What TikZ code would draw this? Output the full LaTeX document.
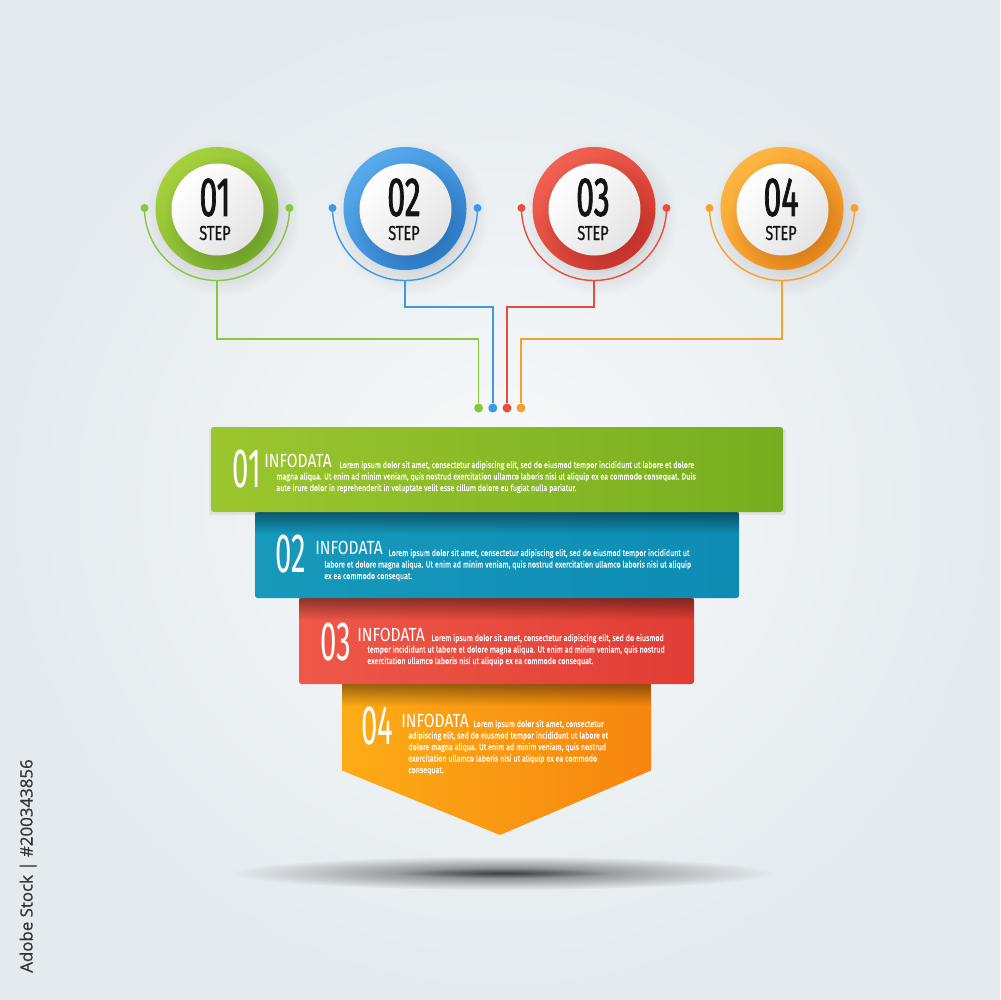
\documentclass[tikz,border=0pt]{standalone}
\usepackage{fontspec}
\setmainfont{Fira Sans}
\newfontfamily\cnumfont[FakeStretch=0.58, FakeBold=1.3]{Fira Sans}
\newfontfamily\cstepfont[FakeStretch=0.72, FakeBold=0.8]{Fira Sans}
\newfontfamily\bnumfont[FakeStretch=0.53]{Fira Sans}
\newfontfamily\ttlfont[FakeStretch=0.82]{Fira Sans}
\newfontfamily\bodyfont[FakeStretch=0.8, FakeBold=0.6]{Fira Sans}
\newfontfamily\sidefont[FakeBold=0.6]{Open Sans}
\usetikzlibrary{fadings}
\definecolor{bgin}{HTML}{F8FAFB}
\definecolor{bgout}{HTML}{E4EAEE}
\definecolor{gA}{HTML}{A6D13E}\definecolor{gB}{HTML}{7AB22E}\definecolor{gL}{HTML}{8BC53F}
\definecolor{bA}{HTML}{58AAEC}\definecolor{bB}{HTML}{2E82D2}\definecolor{bL}{HTML}{3E98E6}
\definecolor{rA}{HTML}{F06252}\definecolor{rB}{HTML}{D6362E}\definecolor{rL}{HTML}{E84C3D}
\definecolor{oA}{HTML}{FDB642}\definecolor{oB}{HTML}{F28E1E}\definecolor{oL}{HTML}{F7A030}
\definecolor{g1L}{HTML}{9CC62E}\definecolor{g1R}{HTML}{76AE1F}
\definecolor{t2L}{HTML}{1699BB}\definecolor{t2R}{HTML}{0E8CB3}
\definecolor{r3L}{HTML}{EF5848}\definecolor{r3R}{HTML}{E13D35}
\definecolor{o4L}{HTML}{FDAC16}\definecolor{o4R}{HTML}{F7850E}
\definecolor{disc}{HTML}{E4E4E4}
\definecolor{sidegray}{HTML}{333333}
\tikzfading[name=softfade, inner color=transparent!0, outer color=transparent!100]
\tikzfading[name=topfade, top color=transparent!0, bottom color=transparent!100]
\newcommand\stepnum[1]{{\cnumfont\fontsize{31.5}{31.5}\selectfont #1}\\{STEP}}
\begin{document}
\begin{tikzpicture}[x=0.02cm,y=-0.02cm,
  cnum/.style={inner sep=0, anchor=north, align=center, text=black!92, font=\cstepfont\fontsize{11.5}{13.7}\selectfont},
  bnum/.style={inner sep=0, anchor=base west, text=white, font=\bnumfont\fontsize{31.5}{31.5}\selectfont},
  ttl/.style={inner sep=0, anchor=base west, text=white, font=\ttlfont\fontsize{10.8}{10.8}\selectfont},
  bodytxt/.style={inner sep=0, anchor=base west, text=white, font=\bodyfont\fontsize{5.05}{6}\selectfont},
  conn/.style={line width=0.8pt},
  enddot/.style={circle, inner sep=0, minimum size=0.18cm},
  ringshadow/.style={black, opacity=0.28, path fading=softfade},
  bandshadow/.style={black, opacity=0.42, path fading=topfade}
]
% background
\shade[inner color=bgin, outer color=bgout] (0,0) rectangle (1000,1000);
\useasboundingbox (0,0) rectangle (1000,1000);
% floor shadow
\fill[black, opacity=0.55, path fading=softfade] (503,873) ellipse (270 and 17);
\fill[black, opacity=0.4, path fading=softfade] (503,873) ellipse (110 and 5);

% circles
\foreach \cx/\ca/\cb in {217/gA/gB, 405/bA/bB, 594/rA/rB, 782/oA/oB}{
  \fill[ringshadow] (\cx+6,218) circle (78);
  \shade[top color=\ca, bottom color=\cb, shading angle=40] (\cx,208.5) circle (61.5);
  \fill[black, opacity=0.35, path fading=softfade] (\cx+5,215) circle (58);
  \shade[top color=white, bottom color=disc, shading angle=45] (\cx+0.5,209.5) circle (46);
}
\node[cnum] (n1) at (215,178) {\stepnum{01}};
\node[cnum] (n2) at (404,178) {\stepnum{02}};
\node[cnum] (n3) at (593,178) {\stepnum{03}};
\node[cnum] (n4) at (781,178) {\stepnum{04}};

% arcs around circles
\foreach \cx/\cl in {217/gL, 405/bL, 594/rL, 782/oL}{
  \draw[conn, \cl] (\cx-72.5,208) arc[start angle=180, end angle=0, radius=72.5];
  \fill[\cl] (\cx-72.5,208) circle (4);
  \fill[\cl] (\cx+72.5,208) circle (4);
}
\coordinate (a1) at (217,280.5);
\coordinate (a2) at (405,280.5);
\coordinate (a3) at (594,280.5);
\coordinate (a4) at (782,280.5);
\node[enddot, fill=gL] (d1) at (478.6,408) {};
\node[enddot, fill=bL] (d2) at (492.8,408) {};
\node[enddot, fill=rL] (d3) at (507,408) {};
\node[enddot, fill=oL] (d4) at (521,408) {};
\draw[conn, gL] (a1) -- ++(0,58.5) -| (d1);
\draw[conn, bL] (a2) -- ++(0,26.5) -| (d2);
\draw[conn, rL] (a3) -- ++(0,26.5) -| (d3);
\draw[conn, oL] (a4) -- ++(0,58.5) -| (d4);

% banners
\fill[black, opacity=0.06] (209,429) rectangle (786,515);
\shade[left color=o4L, right color=o4R] (342,684) -- (651,684) -- (651,770.5) -- (500,835) -- (342,770.5) -- cycle;
\fill[bandshadow] (342,684) rectangle (651,706);
\shade[left color=r3L, right color=r3R, rounded corners=1.5] (299,598) rectangle (694,684);
\fill[bandshadow] (299,598) rectangle (694,620);
\shade[left color=t2L, right color=t2R, rounded corners=1.5] (255,512) rectangle (739,598);
\fill[bandshadow] (255,512) rectangle (739,534);
\shade[left color=g1L, right color=g1R, rounded corners=1.5] (211,427) rectangle (783,512);

% banner 1 text
\node[bnum] (bn1) at (232,487) {01};
\node[ttl] (bt1) at (264,467) {INFODATA};
\node[bodytxt] (b1a) at (339,468) {Lorem ipsum dolor sit amet, consectetur adipiscing elit, sed do eiusmod tempor incididunt ut labore et dolore};
\node[bodytxt] (b1b) at (276,479.5) {magna aliqua. Ut enim ad minim veniam, quis nostrud exercitation ullamco laboris nisi ut aliquip ex ea commodo consequat. Duis};
\node[bodytxt] (b1c) at (276,491) {aute irure dolor in reprehenderit in voluptate velit esse cillum dolore eu fugiat nulla pariatur.};
% banner 2 text
\node[bnum] (bn2) at (275,572) {02};
\node[ttl] (bt2) at (315,554) {INFODATA};
\node[bodytxt] (b2a) at (388,556) {Lorem ipsum dolor sit amet, consectetur adipiscing elit, sed do eiusmod tempor incididunt ut};
\node[bodytxt] (b2b) at (324,567.5) {labore et dolore magna aliqua. Ut enim ad minim veniam, quis nostrud exercitation ullamco laboris nisi ut aliquip};
\node[bodytxt] (b2c) at (324,579) {ex ea commodo consequat.};
% banner 3 text
\node[bnum] (bn3) at (320,660) {03};
\node[ttl] (bt3) at (357,641) {INFODATA};
\node[bodytxt] (b3a) at (431,641) {Lorem ipsum dolor sit amet, consectetur adipiscing elit, sed do eiusmod};
\node[bodytxt] (b3b) at (367,652.5) {tempor incididunt ut labore et dolore magna aliqua. Ut enim ad minim veniam, quis nostrud};
\node[bodytxt] (b3c) at (367,664) {exercitation ullamco laboris nisi ut aliquip ex ea commodo consequat.};
% banner 4 text
\node[bnum] (bn4) at (361,744) {04};
\node[ttl] (bt4) at (401,727) {INFODATA};
\node[bodytxt] (b4a) at (473,727) {Lorem ipsum dolor sit amet, consectetur};
\node[bodytxt] (b4b) at (408,738.5) {adipiscing elit, sed do eiusmod tempor incididunt ut labore et};
\node[bodytxt] (b4c) at (408,750) {dolore magna aliqua. Ut enim ad minim veniam, quis nostrud};
\node[bodytxt] (b4d) at (408,761.5) {exercitation ullamco laboris nisi ut aliquip ex ea commodo};
\node[bodytxt] (b4e) at (408,773) {consequat.};

% side label
\node[rotate=90, anchor=base, inner sep=0, text=sidegray, font=\sidefont\fontsize{9.6}{9.6}\selectfont] (side) at (32.5,866) {Adobe Stock | \#200343856};
\end{tikzpicture}
\end{document}
